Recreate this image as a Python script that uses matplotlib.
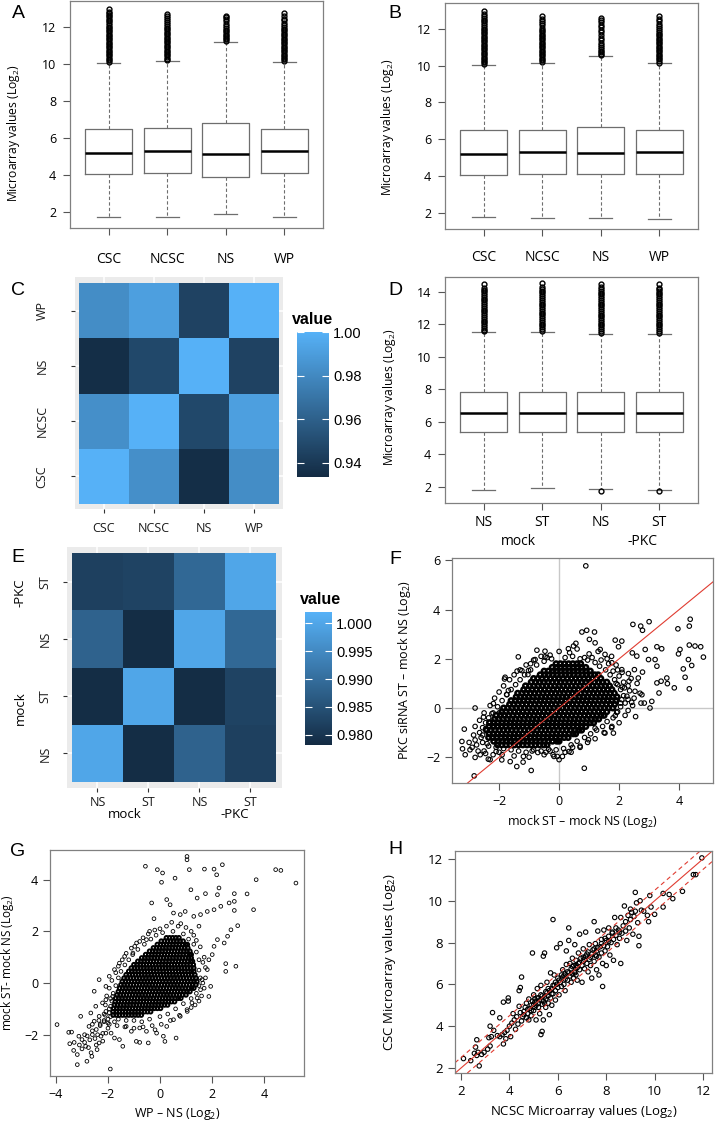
import matplotlib
matplotlib.use("Agg")
import matplotlib.pyplot as plt
import numpy as np
from matplotlib.colors import LinearSegmentedColormap, Normalize
from matplotlib.cm import ScalarMappable

plt.rcParams["font.family"] = ["Open Sans", "DejaVu Sans"]

# ---------------- data ----------------
groups = ["CSC", "NCSC", "NS", "WP"]
treat_labels = ["NS", "ST", "NS", "ST"]

# q1, median, q3, lower whisker, upper whisker
box_A = [(4.07, 5.21, 6.46, 1.75, 10.07), (4.09, 5.29, 6.52, 1.75, 10.16),
         (3.88, 5.11, 6.80, 1.88, 11.20), (4.10, 5.27, 6.48, 1.71, 10.12)]
fliers_A = [
    [10.12, 10.2, 10.29, 10.37, 10.46, 10.55, 10.63, 10.72, 10.8, 10.9, 10.98, 11.07, 11.15, 11.24,
     11.33, 11.41, 11.5, 11.58, 11.67, 11.76, 11.84, 11.93, 12.02, 12.12, 12.22, 12.3, 12.4, 12.48,
     12.57, 12.65, 12.73, 12.82, 12.96],
    [10.2, 10.29, 10.37, 10.46, 10.55, 10.63, 10.72, 10.81, 10.9, 10.98, 11.07, 11.16, 11.24, 11.33,
     11.42, 11.5, 11.59, 11.68, 11.77, 11.86, 11.95, 12.05, 12.17, 12.28, 12.4, 12.5, 12.6, 12.7],
    [11.24, 11.32, 11.41, 11.5, 11.58, 11.67, 11.76, 11.85, 11.96, 12.07, 12.18, 12.3, 12.42, 12.52, 12.6],
    [10.16, 10.24, 10.33, 10.42, 10.5, 10.59, 10.68, 10.76, 10.85, 10.94, 11.02, 11.11, 11.2, 11.29,
     11.37, 11.46, 11.55, 11.63, 11.72, 11.81, 11.9, 12.0, 12.1, 12.22, 12.35, 12.45, 12.58, 12.75],
]

box_B = [(4.08, 5.22, 6.48, 1.77, 10.05), (4.13, 5.29, 6.53, 1.72, 10.16),
         (4.09, 5.24, 6.66, 1.72, 10.50), (4.13, 5.29, 6.51, 1.66, 10.12)]
fliers_B = [
    [10.1, 10.18, 10.27, 10.35, 10.44, 10.53, 10.61, 10.7, 10.79, 10.88, 10.96, 11.05, 11.14, 11.22,
     11.31, 11.4, 11.48, 11.57, 11.66, 11.75, 11.83, 11.92, 12.01, 12.1, 12.2, 12.3, 12.4, 12.5,
     12.6, 12.7, 12.8, 12.96],
    [10.2, 10.29, 10.38, 10.46, 10.55, 10.64, 10.72, 10.81, 10.9, 10.99, 11.07, 11.16, 11.25, 11.33,
     11.42, 11.51, 11.6, 11.68, 11.77, 11.86, 11.95, 12.05, 12.18, 12.3, 12.42, 12.55, 12.7],
    [10.55, 10.63, 10.72, 10.8, 10.9, 11.0, 11.12, 11.25, 11.38, 11.52, 11.65, 11.8, 11.95, 12.1,
     12.22, 12.35, 12.47, 12.57],
    [10.16, 10.25, 10.34, 10.42, 10.51, 10.6, 10.68, 10.77, 10.86, 10.95, 11.03, 11.12, 11.21, 11.3,
     11.38, 11.47, 11.56, 11.65, 11.74, 11.83, 11.92, 12.02, 12.15, 12.28, 12.4, 12.55, 12.7],
]

box_D = [(5.39, 6.53, 7.82, 1.78, 11.49), (5.39, 6.53, 7.82, 1.94, 11.53),
         (5.39, 6.55, 7.80, 1.86, 11.41), (5.39, 6.55, 7.80, 1.82, 11.41)]
fliers_D = [
    [11.55, 11.66, 11.77, 11.88, 12.0, 12.11, 12.22, 12.33, 12.45, 12.56, 12.67, 12.78, 12.9, 13.01,
     13.12, 13.23, 13.35, 13.46, 13.57, 13.68, 13.8, 13.91, 14.02, 14.13, 14.24, 14.5],
    [11.6, 11.71, 11.82, 11.93, 12.04, 12.15, 12.27, 12.38, 12.49, 12.6, 12.71, 12.83, 12.94, 13.05,
     13.16, 13.27, 13.39, 13.5, 13.61, 13.72, 13.84, 13.95, 14.06, 14.17, 14.28, 14.55],
    [1.76, 11.47, 11.58, 11.69, 11.8, 11.92, 12.03, 12.14, 12.25, 12.37, 12.48, 12.59, 12.7, 12.82,
     12.93, 13.04, 13.15, 13.27, 13.38, 13.49, 13.6, 13.72, 13.83, 13.94, 14.05, 14.16, 14.27, 14.5],
    [1.74, 11.47, 11.58, 11.69, 11.8, 11.92, 12.03, 12.14, 12.25, 12.37, 12.48, 12.59, 12.7, 12.82,
     12.93, 13.04, 13.15, 13.27, 13.38, 13.49, 13.6, 13.72, 13.83, 13.94, 14.05, 14.16, 14.25, 14.48],
]

# correlation heatmaps (rows bottom -> top, same order as columns)
corr_C = [[1.000, 0.983, 0.935, 0.982],
          [0.983, 1.000, 0.948, 0.991],
          [0.935, 0.948, 1.000, 0.945],
          [0.982, 0.991, 0.945, 1.000]]
corr_E = [[1.000, 0.9785, 0.988, 0.982],
          [0.9785, 1.000, 0.9785, 0.9825],
          [0.988, 0.9785, 1.000, 0.989],
          [0.982, 0.9825, 0.989, 1.000]]

# F: dense core (y: x values) + scattered points
F_core = """
1.80: -0.10 0.04 0.18 0.32 0.46 0.60 0.72
1.65: -0.23 -0.09 0.05 0.19 0.33 0.47 0.61 0.75 0.89
1.50: -0.50 -0.36 -0.22 -0.08 0.06 0.20 0.34 0.48 0.62 0.76 0.90 1.04
1.35: -0.63 -0.49 -0.35 -0.21 -0.07 0.07 0.21 0.35 0.49 0.63 0.77 0.91 1.05 1.19 1.30
1.20: -0.85 -0.71 -0.57 -0.43 -0.29 -0.15 -0.01 0.13 0.27 0.41 0.55 0.69 0.83 0.97 1.11 1.25 1.39
1.05: -0.93 -0.79 -0.65 -0.51 -0.37 -0.23 -0.09 0.05 0.19 0.33 0.47 0.61 0.75 0.89 1.03 1.17 1.31 1.45 1.59
0.90: -1.12 -0.98 -0.84 -0.70 -0.56 -0.42 -0.28 -0.14 0.00 0.14 0.28 0.42 0.56 0.70 0.84 0.98 1.12 1.26 1.40 1.54 1.68
0.75: -1.18 -1.04 -0.90 -0.76 -0.62 -0.48 -0.34 -0.20 -0.06 0.08 0.22 0.36 0.50 0.64 0.78 0.92 1.06 1.20 1.34 1.48 1.62 1.76
0.60: -1.38 -1.24 -1.10 -0.96 -0.82 -0.68 -0.54 -0.40 -0.26 -0.12 0.02 0.16 0.30 0.44 0.58 0.72 0.86 1.00 1.14 1.28 1.42 1.56 1.70 1.84
0.45: -1.43 -1.29 -1.15 -1.01 -0.87 -0.73 -0.59 -0.45 -0.31 -0.17 -0.03 0.11 0.25 0.39 0.53 0.67 0.81 0.95 1.09 1.23 1.37 1.51 1.65 1.79 1.93
0.30: -1.60 -1.46 -1.32 -1.18 -1.04 -0.90 -0.76 -0.62 -0.48 -0.34 -0.20 -0.06 0.08 0.22 0.36 0.50 0.64 0.78 0.92 1.06 1.20 1.34 1.48 1.62 1.76 1.90
0.15: -1.65 -1.51 -1.37 -1.23 -1.09 -0.95 -0.81 -0.67 -0.53 -0.39 -0.25 -0.11 0.03 0.17 0.31 0.45 0.59 0.73 0.87 1.01 1.15 1.29 1.43 1.57 1.71 1.85
0.00: -1.85 -1.71 -1.57 -1.43 -1.29 -1.15 -1.01 -0.87 -0.73 -0.59 -0.45 -0.31 -0.17 -0.03 0.11 0.25 0.39 0.53 0.67 0.81 0.95 1.09 1.23 1.37 1.51 1.65 1.79
-0.15: -1.91 -1.77 -1.63 -1.49 -1.35 -1.21 -1.07 -0.93 -0.79 -0.65 -0.51 -0.37 -0.23 -0.09 0.05 0.19 0.33 0.47 0.61 0.75 0.89 1.03 1.17 1.31 1.45 1.59
-0.30: -2.10 -1.96 -1.82 -1.68 -1.54 -1.40 -1.26 -1.12 -0.98 -0.84 -0.70 -0.56 -0.42 -0.28 -0.14 0.00 0.14 0.28 0.42 0.56 0.70 0.84 0.98 1.12 1.26 1.40 1.50
-0.45: -2.15 -2.01 -1.87 -1.73 -1.59 -1.45 -1.31 -1.17 -1.03 -0.89 -0.75 -0.61 -0.47 -0.33 -0.19 -0.05 0.09 0.23 0.37 0.51 0.65 0.79 0.93 1.07 1.21 1.32
-0.60: -2.32 -2.18 -2.04 -1.90 -1.76 -1.62 -1.48 -1.34 -1.20 -1.06 -0.92 -0.78 -0.64 -0.50 -0.36 -0.22 -0.08 0.06 0.20 0.34 0.48 0.62 0.76 0.90 1.04 1.15
-0.75: -2.33 -2.19 -2.05 -1.91 -1.77 -1.63 -1.49 -1.35 -1.21 -1.07 -0.93 -0.79 -0.65 -0.51 -0.37 -0.23 -0.09 0.05 0.19 0.33 0.47 0.61 0.75 0.89
-0.90: -2.42 -2.28 -2.14 -2.00 -1.86 -1.72 -1.58 -1.44 -1.30 -1.16 -1.02 -0.88 -0.74 -0.60 -0.46 -0.32 -0.18 -0.04 0.10 0.24 0.38 0.52 0.66 0.75
-1.05: -2.33 -2.19 -2.05 -1.91 -1.77 -1.63 -1.49 -1.35 -1.21 -1.07 -0.93 -0.79 -0.65 -0.51 -0.37 -0.23 -0.09 0.05 0.19 0.33 0.47 0.55
-1.20: -2.35 -2.21 -2.07 -1.93 -1.79 -1.65 -1.51 -1.37 -1.23 -1.09 -0.95 -0.81 -0.67 -0.53 -0.39 -0.25 -0.11 0.03 0.17 0.30
-1.35: -2.18 -2.04 -1.90 -1.76 -1.62 -1.48 -1.34 -1.20 -1.06 -0.92 -0.78 -0.64 -0.50 -0.36 -0.22 -0.08 0.00
-1.50: -2.05 -1.91 -1.77 -1.63 -1.49 -1.35 -1.21 -1.07 -0.93 -0.79 -0.65 -0.51 -0.40
"""
F_x = [0.89, 2.46, 3.0, 2.72, 2.78, 3.96, 4.37, 4.34, 4.81, 4.72, 4.53, 4.34, 4.03, 3.98, 4.31, 4.42,
       4.14, 4.2, 4.34, 3.84, 3.59, 3.61, 3.4, 3.26, 3.33, 3.09, 3.03, 2.84, 2.73, 2.76, 3.26, 3.2, 2.98,
       3.42, 3.26, 2.87, 2.59, 2.44, 2.09, 1.87, 1.98, 1.18, 0.92, 0.76, 1.01, 1.2, 0.56, 0.48, 0.31,
       -0.74, -0.47, -0.47, -1.36, -0.8, -1.24, -1.02, -1.04, -1.82, -1.69, -1.74, -2.8, -2.52, -2.19,
       -2.24, -2.0, -3.16, -3.24, -3.22, -3.13, -2.97, -2.8, -2.63, -2.83, -2.36, -2.1, -1.91, -1.63,
       -1.41, -1.19, -0.93, -0.71, -0.44, -0.17, -0.06, 0.11, 0.33, 0.84, 0.98, 1.2, 1.53, 1.76, 1.81,
       1.87, 1.92, 2.09, 2.42, 2.26, 2.53, 2.18, 2.33, 2.64, 2.78, 2.51, 2.31, 2.09, 1.76, 1.53, 1.37,
       0.2, 0.45, 0.7, 0.95, 1.2, 1.35, 1.55, 1.7, 1.85, 1.95, 2.05, 2.15, 2.2, 2.05, 1.95, 1.8, 1.6,
       1.45, 1.25, 1.05, 0.85, 0.6, 0.4, 0.15, -0.1, -0.35, -0.6, -0.85, -1.1, -1.35, -1.6, -1.85, -2.1,
       -2.35, -2.55, -2.6, -2.65, -2.55, -2.45, -2.35, -2.2, -2.05, -1.9, -1.75, -1.6, -1.45, -1.3,
       -1.15, -0.95, -0.75, -0.5, -0.25, 2.3, 2.4, 2.1, 1.9, 1.6, 1.0, 2.5, 2.3, -2.8, -2.9, -2.7,
       -2.45, -2.2, -1.9, -0.2, 0.4, 0.7]
F_y = [5.78, 3.40, 3.51, 3.33, 3.16, 3.22, 3.61, 3.33, 2.07, 2.49, 2.52, 2.56, 2.38, 2.2, 1.97, 1.73,
       1.59, 1.25, 0.78, 0.82, 1.22, 0.99, 1.09, 1.02, 0.61, 0.27, 0.0, 0.2, 0.2, 0.54, 1.7, 1.97, 1.97,
       2.41, 2.49, 2.38, 2.11, 2.24, 2.72, 2.76, 2.49, 3.09, 3.16, 3.09, 2.79, 2.65, 2.63, 2.52, 2.41,
       2.35, 2.31, 2.08, 2.08, 1.97, 1.52, 1.52, 1.36, 1.18, 0.71, 0.54, 0.0, -0.37, 0.18,
       -0.23, -0.2, -0.86, -1.36, -1.66, -1.9, -1.7, -2.01, -1.9, -2.76, -2.08, -1.77, -2.11, -2.18,
       -2.38, -1.97, -2.54, -1.81, -1.8, -1.97, -1.97, -1.97, -1.77, -2.45, -1.29, -0.82, -1.02, -0.75, -1.02,
       -0.31, -0.18, 0.34, 0.23, 0.48, 0.68, 0.82, 1.09, 1.22, 1.46, 1.56, 1.4, 1.56, 1.84, 2.18, 2.38,
       2.05, 2.1, 2.0, 1.95, 1.85, 1.7, 1.55, 1.35, 1.15, 0.95, 0.75, 0.5, 0.2, 0.05, -0.15, -0.4, -0.55,
       -0.75, -0.9, -1.05, -1.2, -1.35, -1.5, -1.65, -1.7, -1.68, -1.75, -1.7, -1.8, -1.75, -1.7, -1.65, -1.6,
       -1.55, -1.4, -1.2, -1.0, -0.8, -0.6, -0.4, -0.2, 0.05, 0.3, 0.55, 0.75, 0.95, 1.15,
       1.35, 1.55, 1.75, 1.9, 2.0, 0.9, 1.2, 1.45, 1.75, 2.0, 2.2, 0.4, -0.1, -1.3, -1.6, -1.75,
       -1.85, -1.9, -1.9, -1.9, -1.8, -1.6]
F_fringe = [
    (-0.3, 2.15), (0.0, 2.3), (0.35, 2.25), (0.6, 2.4), (0.85, 2.05), (1.1, 2.05), (1.4, 1.95), (1.65, 1.8),
    (1.8, 1.5), (2.0, 1.3), (2.15, 1.05), (2.35, 0.7), (2.45, 0.1), (2.2, -0.3), (2.0, -0.6), (1.75, -0.8),
    (1.5, -1.0), (1.2, -1.25), (0.95, -1.4), (0.7, -1.55), (0.2, -1.8), (-0.5, -1.9), (-1.0, -2.0),
    (-1.5, -1.95), (-2.0, -1.8), (-2.5, -1.75), (-2.75, -1.5), (-2.85, -1.1), (-2.8, -0.75), (-2.65, -0.5),
    (-2.5, -0.2), (-2.3, 0.1), (-2.15, 0.4), (-2.0, 0.65), (-1.85, 0.9), (-1.65, 1.15), (-1.5, 1.35),
    (-1.3, 1.55), (-1.1, 1.75), (-0.85, 1.95), (-0.6, 2.1), (1.3, 2.3), (1.75, 2.1), (2.6, 1.0), (2.7, 0.6),
    (2.55, -0.35), (-3.0, -1.4), (-2.3, -2.1), (-1.2, -2.2), (0.0, -2.1), (1.95, 1.55), (2.1, 0.85),
    (2.3, 0.35), (2.05, 0.2), (1.9, 1.0), (-2.4, -1.45), (-2.55, -1.1), (-2.45, -0.85), (-0.9, -1.75),
    (-0.3, -1.75), (0.45, -1.6), (-1.8, 1.25), (-1.4, 1.5), (-0.95, 1.8), (-0.4, 2.05),
]

# G: dense core (y: x values) + scattered points
G_core = """
1.75: 0.25 0.37 0.49 0.61 0.73
1.62: 0.05 0.17 0.29 0.41 0.53 0.65 0.77 0.89
1.49: -0.10 0.02 0.14 0.26 0.38 0.50 0.62 0.74 0.86 0.98 1.05
1.36: -0.25 -0.13 -0.01 0.11 0.23 0.35 0.47 0.59 0.71 0.83 0.95 1.07
1.23: -0.40 -0.28 -0.16 -0.04 0.08 0.20 0.32 0.44 0.56 0.68 0.80 0.92 1.04 1.15
1.10: -0.55 -0.43 -0.31 -0.19 -0.07 0.05 0.17 0.29 0.41 0.53 0.65 0.77 0.89 1.01 1.13 1.20
0.97: -0.70 -0.58 -0.46 -0.34 -0.22 -0.10 0.02 0.14 0.26 0.38 0.50 0.62 0.74 0.86 0.98 1.10 1.20
0.84: -0.85 -0.73 -0.61 -0.49 -0.37 -0.25 -0.13 -0.01 0.11 0.23 0.35 0.47 0.59 0.71 0.83 0.95 1.07 1.19 1.25
0.71: -1.00 -0.88 -0.76 -0.64 -0.52 -0.40 -0.28 -0.16 -0.04 0.08 0.20 0.32 0.44 0.56 0.68 0.80 0.92 1.04 1.16 1.28
0.58: -1.10 -0.98 -0.86 -0.74 -0.62 -0.50 -0.38 -0.26 -0.14 -0.02 0.10 0.22 0.34 0.46 0.58 0.70 0.82 0.94 1.06 1.18 1.30
0.45: -1.20 -1.08 -0.96 -0.84 -0.72 -0.60 -0.48 -0.36 -0.24 -0.12 0.00 0.12 0.24 0.36 0.48 0.60 0.72 0.84 0.96 1.08 1.20 1.30
0.32: -1.30 -1.18 -1.06 -0.94 -0.82 -0.70 -0.58 -0.46 -0.34 -0.22 -0.10 0.02 0.14 0.26 0.38 0.50 0.62 0.74 0.86 0.98 1.10 1.22 1.34
0.19: -1.38 -1.26 -1.14 -1.02 -0.90 -0.78 -0.66 -0.54 -0.42 -0.30 -0.18 -0.06 0.06 0.18 0.30 0.42 0.54 0.66 0.78 0.90 1.02 1.14 1.26 1.38
0.06: -1.45 -1.33 -1.21 -1.09 -0.97 -0.85 -0.73 -0.61 -0.49 -0.37 -0.25 -0.13 -0.01 0.11 0.23 0.35 0.47 0.59 0.71 0.83 0.95 1.07 1.19 1.31 1.42
-0.07: -1.50 -1.38 -1.26 -1.14 -1.02 -0.90 -0.78 -0.66 -0.54 -0.42 -0.30 -0.18 -0.06 0.06 0.18 0.30 0.42 0.54 0.66 0.78 0.90 1.02 1.14 1.26 1.38
-0.20: -1.55 -1.43 -1.31 -1.19 -1.07 -0.95 -0.83 -0.71 -0.59 -0.47 -0.35 -0.23 -0.11 0.01 0.13 0.25 0.37 0.49 0.61 0.73 0.85 0.97 1.09 1.21 1.30
-0.33: -1.60 -1.48 -1.36 -1.24 -1.12 -1.00 -0.88 -0.76 -0.64 -0.52 -0.40 -0.28 -0.16 -0.04 0.08 0.20 0.32 0.44 0.56 0.68 0.80 0.92 1.04 1.15
-0.46: -1.65 -1.53 -1.41 -1.29 -1.17 -1.05 -0.93 -0.81 -0.69 -0.57 -0.45 -0.33 -0.21 -0.09 0.03 0.15 0.27 0.39 0.51 0.63 0.75 0.87 1.00
-0.59: -1.70 -1.58 -1.46 -1.34 -1.22 -1.10 -0.98 -0.86 -0.74 -0.62 -0.50 -0.38 -0.26 -0.14 -0.02 0.10 0.22 0.34 0.46 0.58 0.70 0.80
-0.72: -1.72 -1.60 -1.48 -1.36 -1.24 -1.12 -1.00 -0.88 -0.76 -0.64 -0.52 -0.40 -0.28 -0.16 -0.04 0.08 0.20 0.32 0.44 0.56
-0.85: -1.75 -1.63 -1.51 -1.39 -1.27 -1.15 -1.03 -0.91 -0.79 -0.67 -0.55 -0.43 -0.31 -0.19 -0.07 0.05 0.17 0.29
-0.98: -1.78 -1.66 -1.54 -1.42 -1.30 -1.18 -1.06 -0.94 -0.82 -0.70 -0.58 -0.46 -0.34 -0.22 -0.10 0.02
-1.11: -1.80 -1.68 -1.56 -1.44 -1.32 -1.20 -1.08 -0.96 -0.84 -0.72 -0.60 -0.48 -0.36
-1.24: -1.80 -1.68 -1.56 -1.44 -1.32 -1.20 -1.08 -0.96 -0.84 -0.72
"""
G_x = [1.04, 1.04, -0.56, -0.1, 0.1, 2.4, 1.71, 2.08, 2.18, 1.13, 0.06, 0.58, 4.45, 4.65, 3.7, 5.23,
       1.19, 2.27, 2.21, 1.75, 1.43, 2.86, 3.35, 3.6, 2.86, 2.86, 2.66, 2.34, 2.08, 1.82, 1.56, 1.30,
       0.97, 0.78, 0.52, 0.39, 0.26, -0.32, -0.23, -0.52, -0.78, -1.04, -0.97, -1.36, -1.56, -1.75,
       -1.95, -2.34, -2.53, -2.08, -1.82,
       2.99, 2.73, 2.60, 2.47, 2.21, 2.08, 2.01, 1.88, 1.82, 1.62, 1.56, 1.95, 1.88, 1.43, 1.23, 1.04,
       0.78, 0.52, 0.26, -0.13, 0.13, -0.45, -0.78, 0.19, -0.19, 0.62, 2.53, 2.92, 2.53,
       -3.96, -3.51, -3.47, -3.32, -3.18, -3.18, -2.81, -2.62, -2.42, -2.34, -2.27, -2.08, -1.88, -3.0,
       -2.86, -3.12, -2.73, -2.53, -2.34, -2.08, -3.05, -2.66, -2.47, -2.21, -2.08, -1.91, -1.43, -1.56,
       -1.75, -1.30, -1.10, -0.91, -0.78, -0.52,
       -2.9, -2.7, -2.6, -2.45, -2.3, -2.15, -2.0, -1.95, -2.2, -2.5, -2.75, -3.0, -2.9, -2.6, -2.35,
       -2.1, -1.95, -1.9, -1.9,
       1.1, 1.3, 1.4, 1.5, 1.5, 1.55, 1.5, 1.4, 1.2, 0.9, 0.6, 0.3, 0.0, -0.4, -0.7, -1.0, -1.3, -1.6,
       -1.9, -1.95, -1.85, -1.8, -1.7, -1.6, -1.5, -1.35, -1.2, -1.05, -0.85, -0.6, -0.35, -0.15, 0.1,
       0.5, 0.9, 0.0, 0.7, 1.2, -0.4]
G_y = [4.9, 4.77, 4.52, 4.39, 4.26, 4.58, 4.41, 4.41, 4.19, 4.39, 3.9, 4.06, 4.39, 4.36, 4.0, 3.87,
       3.61, 3.68, 3.42, 3.46, 3.29, 3.46, 3.45, 2.84, 3.16, 2.81, 3.1, 2.97, 2.84, 2.77, 2.65, 2.58,
       2.77, 2.65, 2.71, 3.03, 3.23, 3.1, 2.49, 1.68, 1.61, 1.16, 1.42, 1.03, 0.77, 0.52,
       0.26, 0.13, -0.32, -0.13, -0.52,
       2.22, 2.06, 1.81, 1.55, 1.68, 1.42, 1.1, 0.90, 0.52, 0.13, -0.26, -0.13, -0.52, -0.58, -0.77, -1.03,
       -1.29, -1.42, -1.68, -1.94, -2.06, -2.32, -2.30, -2.26, -1.81, -2.13, 0.75, 0.65, 0.45,
       -1.61, -1.91, -2.35, -2.61, -2.77, -3.16, -3.03, -2.84, -2.58, -2.32, -2.06, -1.94, -1.94, -2.19,
       -2.45, -2.06, -1.68, -1.48, -1.29, -1.10, -1.29, -1.16, -0.90, -0.77, -0.65, -3.33, -2.45, -2.19,
       -2.13, -1.68, -1.87, -2.26, -1.74, -1.87,
       -2.3, -2.2, -2.0, -1.8, -1.65, -1.5, -1.4, -1.6, -1.95, -2.15, -2.5, -2.55, -2.0, -1.6, -1.45,
       -1.25, -1.15, -0.9, -0.6,
       1.7, 1.5, 1.2, 0.9, 0.5, 0.2, -0.1, -0.4, -0.6, -0.8, -1.0, -1.2, -1.3, -1.4, -1.5, -1.45, -1.45, -1.4,
       -1.3, -1.0, -0.7, -0.4, -0.1, 0.2, 0.45, 0.7, 0.9, 1.1, 1.3, 1.5, 1.7, 1.85, 1.95,
       2.0, 1.9, 2.1, 2.2, 2.0, 2.0]
G_fringe = [
    (1.3, 1.85), (1.55, 1.4), (1.7, 1.0), (1.75, 0.6), (1.75, 0.2), (1.7, -0.2), (1.6, -0.5), (1.35, -0.85),
    (1.05, -1.1), (0.75, -1.25), (0.4, -1.45), (0.05, -1.6), (-0.3, -1.65), (-0.65, -1.7), (-1.0, -1.75),
    (-1.35, -1.7), (-1.65, -1.65), (-2.0, -1.55), (-2.15, -1.2), (-2.1, -0.85), (-2.05, -0.5), (-1.95, -0.2),
    (-1.85, 0.1), (-1.7, 0.4), (-1.6, 0.65), (-1.45, 0.9), (-1.3, 1.15), (-1.1, 1.35), (-0.9, 1.55),
    (-0.65, 1.75), (-0.45, 1.9), (-0.2, 2.05), (0.25, 2.2), (0.45, 2.35), (0.8, 2.3), (1.0, 2.15), (1.5, 2.2),
    (-2.3, -1.6), (-2.6, -1.85), (-2.8, -2.05), (-3.1, -2.4), (-3.3, -2.3), (-2.45, -2.4), (-2.65, -2.7),
    (-2.2, -2.25), (-3.4, -1.9), (1.4, 1.65), (1.65, 0.8), (1.65, 0.0), (1.5, -0.7), (1.2, -0.95),
    (-2.0, -1.75), (-2.4, -2.0), (-2.15, -1.45), (-1.75, -1.5),
]

# H: NCSC vs CSC expression
H_points = [
    (2.1, 2.45), (2.4, 2.35), (2.55, 2.7), (2.65, 2.6), (2.7, 2.75), (2.6, 3.0), (2.65, 3.35), (2.75, 2.1),
    (2.85, 2.65), (2.95, 2.75), (3.1, 2.9), (3.2, 3.05), (3.15, 3.45), (3.25, 3.5), (3.3, 4.65), (3.2, 4.0),
    (3.35, 3.8), (3.5, 3.55), (3.6, 3.5), (3.7, 3.6), (3.8, 3.7), (3.9, 3.8), (3.75, 3.15), (3.85, 3.4),
    (3.6, 4.4), (3.75, 5.15), (3.95, 5.2), (3.95, 5.35), (4.0, 4.0), (4.1, 4.15), (4.05, 3.5), (4.15, 4.6),
    (4.2, 4.3), (4.25, 3.85), (4.3, 4.45), (4.35, 4.1), (4.4, 4.95), (4.45, 4.65), (4.4, 5.7), (4.45, 5.85),
    (4.5, 6.35), (4.5, 4.25), (4.55, 4.45), (4.6, 4.7), (4.65, 4.9), (4.7, 4.4), (4.7, 5.1), (4.75, 4.6),
    (4.8, 5.3), (4.8, 4.3), (4.85, 4.85), (4.9, 5.0), (4.9, 4.5), (4.95, 5.2), (4.95, 7.5), (5.0, 4.75),
    (5.0, 5.5), (5.05, 4.9), (5.05, 5.15), (5.1, 5.0), (5.1, 4.3), (5.15, 5.35), (5.15, 5.8), (5.2, 4.9),
    (5.2, 5.1), (5.25, 5.25), (5.25, 4.6), (5.3, 5.5), (5.3, 5.95), (5.3, 3.6), (5.35, 3.75), (5.35, 5.05),
    (5.4, 5.2), (5.4, 7.35), (5.4, 4.3), (5.45, 5.4), (5.45, 7.5), (5.5, 5.3), (5.5, 4.9), (5.55, 5.6),
    (5.55, 6.1), (5.6, 5.1), (5.6, 5.45), (5.65, 5.7), (5.65, 4.55), (5.7, 5.35), (5.7, 6.55), (5.75, 5.8),
    (5.75, 5.0), (5.8, 9.1), (5.8, 5.55), (5.85, 5.95), (5.85, 6.45), (5.9, 5.7), (5.9, 5.25), (5.95, 6.0),
    (5.95, 7.75), (6.0, 5.85), (6.0, 6.3), (6.05, 5.5), (6.1, 6.1), (6.1, 7.95), (6.15, 5.9), (6.2, 6.35),
    (6.2, 6.7), (6.25, 6.0), (6.3, 6.5), (6.3, 5.7), (6.35, 6.95), (6.35, 7.6), (6.4, 6.2), (6.4, 6.6),
    (6.45, 8.7), (6.45, 8.1), (6.5, 6.4), (6.5, 7.0), (6.55, 6.75), (6.55, 6.1), (6.6, 6.5), (6.6, 7.25),
    (6.65, 6.9), (6.65, 6.3), (6.7, 6.6), (6.7, 7.9), (6.75, 7.15), (6.75, 6.45), (6.8, 6.8), (6.8, 6.2),
    (6.85, 7.0), (6.85, 7.5), (6.9, 6.7), (6.9, 8.4), (6.95, 7.25), (7.0, 6.9), (7.0, 6.1), (7.05, 7.1),
    (7.05, 7.7), (7.1, 6.75), (7.15, 7.35), (7.15, 8.5), (7.2, 7.0), (7.25, 6.6), (7.25, 7.55), (7.3, 7.2),
    (7.3, 7.9), (7.35, 6.9), (7.4, 7.45), (7.4, 6.3), (7.45, 7.65), (7.5, 7.1), (7.5, 9.0), (7.55, 7.4),
    (7.55, 7.95), (7.6, 6.7), (7.6, 7.6), (7.65, 8.55), (7.7, 7.3), (7.7, 6.45), (7.75, 7.8), (7.8, 7.5),
    (7.8, 8.15), (7.85, 5.9), (7.85, 7.0), (7.9, 7.85), (7.9, 8.6), (7.95, 7.6), (8.0, 8.1), (8.0, 6.9),
    (8.05, 7.8), (8.1, 8.3), (8.1, 8.7), (8.15, 7.4), (8.2, 8.0), (8.25, 8.45), (8.3, 8.15), (8.3, 7.15),
    (8.35, 9.2), (8.4, 8.35), (8.45, 7.9), (8.5, 8.6), (8.55, 8.2), (8.6, 7.0), (8.6, 9.2), (8.65, 8.45),
    (8.7, 8.8), (8.75, 9.75), (8.8, 8.55), (8.8, 9.0), (8.85, 8.1), (8.9, 9.3), (8.95, 8.7), (9.0, 9.6),
    (9.0, 9.1), (9.05, 9.45), (9.1, 8.4), (9.15, 9.25), (9.2, 10.4), (9.2, 9.5), (9.25, 9.9), (9.3, 8.95),
    (9.35, 7.85), (9.35, 8.3), (9.4, 10.0), (9.45, 9.55), (9.55, 9.5), (9.75, 9.0), (9.7, 9.3), (9.85, 9.7),
    (10.0, 9.35), (9.8, 10.25), (10.35, 9.7), (10.35, 10.35), (10.6, 10.3), (10.75, 10.1), (11.15, 10.45),
    (11.6, 11.25), (11.7, 11.25), (11.95, 12.05),
    (4.6, 4.55), (4.75, 4.8), (4.9, 4.75), (5.05, 5.3), (5.2, 5.35), (5.35, 5.45), (5.5, 5.65), (5.6, 5.8),
    (5.75, 5.55), (5.9, 6.1), (6.05, 6.2), (6.15, 6.45), (6.3, 6.25), (6.45, 6.55), (6.6, 6.85), (6.75, 6.9),
    (6.9, 7.05), (7.05, 7.3), (7.2, 7.45), (7.35, 7.3), (7.5, 7.7), (7.65, 7.75), (7.8, 7.95), (7.95, 8.2),
    (8.1, 8.05), (8.25, 8.5), (8.4, 8.7), (8.55, 8.5), (5.0, 5.05), (5.45, 5.1), (5.8, 5.95), (6.25, 6.4),
    (6.7, 6.55), (7.1, 7.2), (7.6, 7.35),
]

# ---------------- figure ----------------
W, H = 715, 1121
fig = plt.figure(figsize=(W / 100, H / 100), dpi=100)
GREY = "#808080"
gg_cmap = LinearSegmentedColormap.from_list("gg", ["#132B43", "#56B1F7"])


def px_axes(l, t, r, b):
    return fig.add_axes([l / W, 1 - b / H, (r - l) / W, (b - t) / H])


def parse_rows(text):
    xs, ys = [], []
    for line in text.strip().splitlines():
        y, vals = line.split(":")
        for v in vals.split():
            xs.append(float(v))
            ys.append(float(y))
    return xs, ys


def r_frame(ax):
    for s in ax.spines.values():
        s.set_color(GREY)
        s.set_linewidth(0.9)
    ax.tick_params(colors="#555555", labelcolor="black", length=5, width=0.8)


def box_panel(ax, stats, fliers, labels, ylim, yticks, xpad):
    bx = []
    for (q1, med, q3, lo, hi), fl, lab in zip(stats, fliers, labels):
        bx.append(dict(q1=q1, med=med, q3=q3, whislo=lo, whishi=hi, fliers=fl, label=lab))
    ax.bxp(bx, positions=[1, 2, 3, 4], widths=0.8, capwidths=0.4,
           boxprops=dict(color="#6e6e6e", lw=0.9),
           medianprops=dict(color="black", lw=1.8),
           whiskerprops=dict(color="#6e6e6e", lw=0.8, ls=(0, (3, 2))),
           capprops=dict(color="#6e6e6e", lw=0.9),
           flierprops=dict(marker="o", mfc="none", mec="black", ms=3.5, mew=1.0))
    ax.set_xlim(0.34, 4.66)
    ax.set_ylim(*ylim)
    ax.set_yticks(yticks)
    r_frame(ax)
    ax.tick_params(axis="x", pad=xpad, labelsize=10)
    ax.tick_params(axis="y", labelsize=9, pad=5)


def heat_panel(ax, mat, vmin, vmax, xlim, ylim):
    ax.set_facecolor("#ebebeb")
    edges = np.arange(5) - 0.5
    ax.pcolormesh(edges, edges, np.array(mat), cmap=gg_cmap, vmin=vmin, vmax=vmax, zorder=2)
    for k in range(4):
        ax.axvline(k, color="white", lw=1.1, zorder=1)
        ax.axhline(k, color="white", lw=1.1, zorder=1)
    ax.set_xlim(*xlim)
    ax.set_ylim(*ylim)
    for s in ax.spines.values():
        s.set_visible(False)
    ax.set_xticks(range(4))
    ax.set_yticks(range(4))
    ax.tick_params(length=3, color="#333333", labelsize=9, labelcolor="#1a1a1a")


def gg_colorbar(cax, vmin, vmax, ticks, fmt):
    sm = ScalarMappable(norm=Normalize(vmin, vmax), cmap=gg_cmap)
    cb = fig.colorbar(sm, cax=cax, ticks=ticks)
    cb.outline.set_visible(False)
    cb.set_ticklabels([fmt % t for t in ticks])
    cax.tick_params(axis="y", direction="in", color="white", length=5, width=0.8,
                    left=True, right=True, labelsize=10.5, pad=3)
    for t in cax.get_yticklabels():
        t.set_fontfamily("Liberation Sans")


def cloud(ax, core_text, xs, ys, extra, size, lw, core_lw):
    cx, cy = parse_rows(core_text)
    # overplotted core: heavier rings so it reads solid, as in the original
    ax.scatter(cx, cy, s=size, facecolors="none", edgecolors="black", linewidths=core_lw)
    ex = [p[0] for p in extra]
    ey = [p[1] for p in extra]
    ax.scatter(list(xs) + ex, list(ys) + ey, s=size, facecolors="none",
               edgecolors="black", linewidths=lw)


log2 = "(Log$_{\\mathregular{2}}$)"

# A
axA = px_axes(70, 1, 323, 228)
box_panel(axA, box_A, fliers_A, groups, (1.13, 13.4), range(2, 13, 2), 12)
axA.set_ylabel("Microarray values " + log2, fontsize=8.7)
axA.yaxis.set_label_coords(-0.19, 0.42)

# B
axB = px_axes(445, 3, 698, 229)
box_panel(axB, box_B, fliers_B, groups, (1.13, 13.4), range(2, 13, 2), 10)
axB.set_ylabel("Microarray values " + log2, fontsize=8.7)
axB.yaxis.set_label_coords(-0.195, 0.45)

# C
axC = px_axes(75, 277, 283, 509)
heat_panel(axC, corr_C, 0.9335, 1.0, (-0.58, 3.58), (-0.59, 3.61))
axC.set_xticklabels(groups)
axC.set_yticklabels(groups, rotation=90, va="center")
axC.tick_params(axis="x", pad=6)
axC.tick_params(axis="y", pad=16)
caxC = px_axes(297, 332, 329, 477)
gg_colorbar(caxC, 0.9335, 1.0, [0.94, 0.96, 0.98, 1.00], "%.2f")
fig.text(292 / W, 1 - 319 / H, "value", fontsize=11.5, fontweight="bold",
         family="Liberation Sans", va="center")

# D
axD = px_axes(445, 277, 698, 503)
box_panel(axD, box_D, fliers_D, treat_labels, (1.0, 14.9), range(2, 15, 2), 4)
axD.set_ylabel("Microarray values " + log2, fontsize=8.7)
axD.yaxis.set_label_coords(-0.185, 0.47)
fig.text(518 / W, 1 - 541 / H, "mock", fontsize=10, ha="center", va="center")
fig.text(642 / W, 1 - 541 / H, "-PKC", fontsize=10, ha="center", va="center")

# E
axE = px_axes(67, 547, 282, 788)
heat_panel(axE, corr_E, 0.9782, 1.002, (-0.598, 3.618), (-0.605, 3.605))
axE.set_xticklabels(treat_labels)
axE.set_yticklabels(treat_labels, rotation=90, va="center")
axE.tick_params(axis="x", pad=3)
axE.tick_params(axis="y", pad=8)
fig.text(125 / W, 1 - 815 / H, "mock", fontsize=9.5, ha="center", va="center")
fig.text(235 / W, 1 - 815 / H, "-PKC", fontsize=9.5, ha="center", va="center")
fig.text(20 / W, 1 - 593 / H, "-PKC", fontsize=9.5, ha="center", va="center", rotation=90)
fig.text(20 / W, 1 - 708 / H, "mock", fontsize=9.5, ha="center", va="center", rotation=90)
caxE = px_axes(305, 612, 332, 745)
gg_colorbar(caxE, 0.9782, 1.002, [0.980, 0.985, 0.990, 0.995, 1.000], "%.3f")
fig.text(300 / W, 1 - 600 / H, "value", fontsize=11.5, fontweight="bold",
         family="Liberation Sans", va="center")

# F
axF = px_axes(452, 558, 713, 783)
axF.axhline(0, color="#c8c8c8", lw=1, zorder=0)
axF.axvline(0, color="#c8c8c8", lw=1, zorder=0)
cloud(axF, F_core, F_x, F_y, F_fringe, 10.5, 0.8, 1.8)
axF.axline((0, 0), slope=1, color="#e03c31", lw=0.8)
axF.set_xlim(-3.57, 5.13)
axF.set_ylim(-3.05, 6.1)
axF.set_xticks([-2, 0, 2, 4])
axF.set_yticks([-2, 0, 2, 4, 6])
r_frame(axF)
axF.tick_params(labelsize=9)
axF.set_xlabel("mock ST \u2013 mock NS " + log2, fontsize=9)
axF.set_ylabel("PKC siRNA ST \u2013 mock NS " + log2, fontsize=9)
axF.yaxis.set_label_coords(-0.15, 0.5)

# G
axG = px_axes(50, 850, 304, 1076)
cloud(axG, G_core, G_x, G_y, G_fringe, 7, 0.6, 1.4)
axG.set_xlim(-4.23, 5.54)
axG.set_ylim(-3.6, 5.15)
axG.set_xticks([-4, -2, 0, 2, 4])
axG.set_yticks([-2, 0, 2, 4])
r_frame(axG)
axG.tick_params(labelsize=9)
axG.set_xlabel("WP \u2013 NS " + log2, fontsize=9)
axG.set_ylabel("mock ST- mock NS " + log2, fontsize=8.5)
axG.yaxis.set_label_coords(-0.135, 0.5)

# H
axH = px_axes(455, 851, 712, 1073)
hx = [p[0] for p in H_points]
hy = [p[1] for p in H_points]
axH.scatter(hx, hy, s=10, facecolors="none", edgecolors="black", linewidths=0.8)
axH.axline((0, 0), slope=1, color="#e03c31", lw=0.8)
axH.axline((0, 0.5), slope=1, color="#e03c31", lw=0.8, ls=(0, (4, 3)))
axH.axline((0, -0.5), slope=1, color="#e03c31", lw=0.8, ls=(0, (4, 3)))
axH.set_xlim(1.75, 12.37)
axH.set_ylim(1.76, 12.38)
axH.set_xticks(range(2, 13, 2))
axH.set_yticks(range(2, 13, 2))
r_frame(axH)
axH.tick_params(labelsize=9.5)
axH.set_xlabel("NCSC Microarray values " + log2, fontsize=9.5)
axH.set_ylabel("CSC Microarray values " + log2, fontsize=9.5)
axH.yaxis.set_label_coords(-0.22, 0.5)

# panel letters
for lab, x, y in [("A", 18, 14), ("B", 395, 14), ("C", 18, 290), ("D", 395, 290),
                  ("E", 18, 557), ("F", 395, 560), ("G", 18, 851), ("H", 395, 850)]:
    fig.text(x / W, 1 - y / H, lab, fontsize=14, family="Liberation Sans",
             ha="center", va="center")

fig.savefig("out.png", dpi=100)
